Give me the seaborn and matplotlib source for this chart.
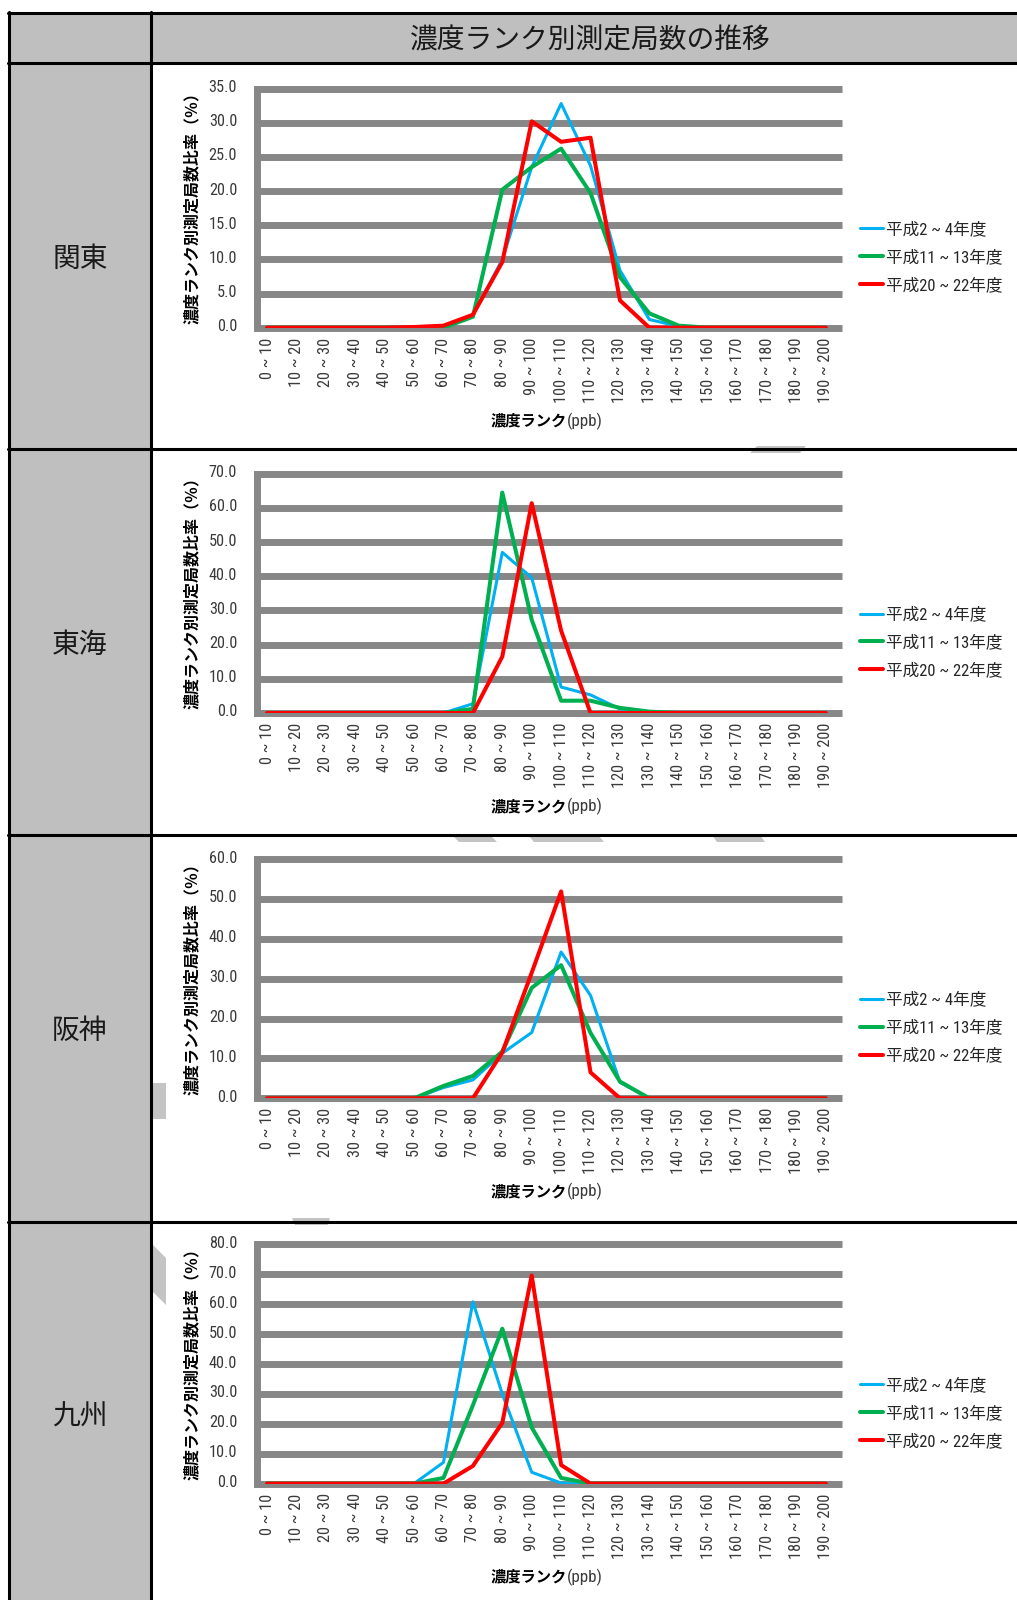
import numpy as np
import pandas as pd
import matplotlib
matplotlib.use("Agg")
import matplotlib.pyplot as plt
import seaborn as sns
from matplotlib import font_manager as fm
from matplotlib.font_manager import FontProperties
from matplotlib.textpath import TextPath
from matplotlib.transforms import ScaledTranslation
from matplotlib.patches import Rectangle, Polygon
from matplotlib.lines import Line2D
from matplotlib.offsetbox import TextArea, HPacker, AnnotationBbox

# ---------------- data ----------------
ranks = ["0 ~ 10", "10 ~ 20", "20 ~ 30", "30 ~ 40", "40 ~ 50", "50 ~ 60", "60 ~ 70",
         "70 ~ 80", "80 ~ 90", "90 ~ 100", "100 ~ 110", "110 ~ 120", "120 ~ 130",
         "130 ~ 140", "140 ~ 150", "150 ~ 160", "160 ~ 170", "170 ~ 180",
         "180 ~ 190", "190 ~ 200"]
periods = ["平成2 ~ 4年度", "平成11 ~ 13年度", "平成20 ~ 22年度"]
regions = ["関東", "東海", "阪神", "九州"]

kanto_h2 = [0, 0, 0, 0, 0, 0, 0.2, 1.8, 10.0, 23.5, 32.8, 23.7, 8.4, 1.2, 0.2, 0, 0, 0, 0, 0]
kanto_h11 = [0, 0, 0, 0, 0, 0, 0, 1.6, 20.2, 23.5, 26.2, 19.7, 7.4, 2.1, 0.3, 0, 0, 0, 0, 0]
kanto_h20 = [0, 0, 0, 0, 0, 0.1, 0.3, 1.9, 9.6, 30.2, 27.2, 27.8, 4.0, 0, 0, 0, 0, 0, 0, 0]

tokai_h2 = [0, 0, 0, 0, 0, 0, 0, 2.7, 47.0, 39.6, 7.6, 5.3, 1.2, 0, 0, 0, 0, 0, 0, 0]
tokai_h11 = [0, 0, 0, 0, 0, 0, 0, 1.2, 64.5, 27.3, 3.6, 3.6, 1.5, 0.4, 0, 0, 0, 0, 0, 0]
tokai_h20 = [0, 0, 0, 0, 0, 0, 0, 0, 16.5, 61.4, 24.1, 0, 0, 0, 0, 0, 0, 0, 0, 0]

hanshin_h2 = [0, 0, 0, 0, 0, 0, 2.7, 4.6, 11.3, 16.5, 36.7, 25.8, 4.0, 0, 0, 0, 0, 0, 0, 0]
hanshin_h11 = [0, 0, 0, 0, 0, 0, 3.1, 5.6, 11.7, 27.7, 33.4, 16.4, 4.2, 0, 0, 0, 0, 0, 0, 0]
hanshin_h20 = [0, 0, 0, 0, 0, 0, 0, 0, 11.5, 31.5, 51.9, 6.5, 0, 0, 0, 0, 0, 0, 0, 0]

kyushu_h2 = [0, 0, 0, 0, 0, 0, 7.1, 60.8, 30.0, 3.8, 0.2, 0, 0, 0, 0, 0, 0, 0, 0, 0]
kyushu_h11 = [0, 0, 0, 0, 0, 0, 1.9, 26.2, 51.8, 18.8, 1.9, 0, 0, 0, 0, 0, 0, 0, 0, 0]
kyushu_h20 = [0, 0, 0, 0, 0, 0, 0, 5.9, 20.3, 69.6, 6.2, 0, 0, 0, 0, 0, 0, 0, 0, 0]

series = [
    (kanto_h2, kanto_h11, kanto_h20),
    (tokai_h2, tokai_h11, tokai_h20),
    (hanshin_h2, hanshin_h11, hanshin_h20),
    (kyushu_h2, kyushu_h11, kyushu_h20),
]
y_max = [35, 70, 60, 80]
y_step = [5, 10, 10, 10]

# ---------------- style ----------------
sns.set_style("white")
names = {f.name for f in fm.fontManager.ttflist}
NARROW = "Liberation Sans"
for cand in ["Roboto Condensed", "Archivo Narrow", "PT Sans Narrow",
             "Liberation Sans Narrow", "Open Sans Condensed", "Fira Sans Condensed",
             "IBM Plex Sans Condensed", "DejaVu Sans Condensed"]:
    if cand in names:
        NARROW = cand
        break
CJK = "Noto Sans CJK JP"
plt.rcParams["font.family"] = [CJK, "DejaVu Sans"]

# size the narrow tick font so that "100 ~ 110" is about 63 px long
_w = TextPath((0, 0), "100 ~ 110", size=100, prop=FontProperties(family=NARROW)).get_extents().width
TICK_PT = min(13.5, max(9.5, 63 * 0.72 / (_w / 100)))

GRAY = "#878787"
CELL = "#BFBFBF"
COLORS = ["#00B0F0", "#00B050", "#FF0000"]
LWS = [2.2, 2.9, 2.9]
TXT = "#3a3a3a"

W, H = 1017, 1600
fig = plt.figure(figsize=(W / 100, H / 100), dpi=100)
fig.patch.set_facecolor("white")


def fx(px):
    return px / W


def fy(py):
    return 1 - py / H


def rect(x0, y0, x1, y1, color, z=-5):
    fig.add_artist(Rectangle((fx(x0), fy(y1)), (x1 - x0) / W, (y1 - y0) / H,
                             transform=fig.transFigure, facecolor=color,
                             edgecolor="none", zorder=z))


def hline(y, x0, x1, lw=2.2):
    fig.add_artist(Line2D([fx(x0), fx(x1)], [fy(y), fy(y)], transform=fig.transFigure,
                          color="black", linewidth=lw, zorder=-1))


def vline(x, y0, y1, lw=2.2):
    fig.add_artist(Line2D([fx(x), fx(x)], [fy(y0), fy(y1)], transform=fig.transFigure,
                          color="black", linewidth=lw, zorder=-1))


# ---------------- table ----------------
rect(9, 13, W + 5, 62, CELL)
rect(9, 62, 150, H + 5, CELL)
# decorative gray fragments
for poly in [
    [(757, 446), (806, 446), (800, 453), (750, 453)],
    [(452, 835), (490, 835), (497, 842), (459, 842)],
    [(528, 835), (598, 835), (604, 842), (534, 842)],
    [(712, 835), (760, 835), (765, 842), (717, 842)],
    [(292, 1218), (330, 1218), (328, 1225), (295, 1225)],
]:
    fig.add_artist(Polygon([(fx(a), fy(b)) for a, b in poly], closed=True,
                           transform=fig.transFigure, facecolor="#C4C4C4",
                           edgecolor="none", zorder=-4))
rect(151, 1083, 166, 1119, "#C4C4C4", z=-4)
fig.add_artist(Polygon([(fx(a), fy(b)) for a, b in
                        [(151, 1243), (166, 1258), (166, 1305), (151, 1290)]],
                       closed=True, transform=fig.transFigure,
                       facecolor="#C4C4C4", edgecolor="none", zorder=-4))

hline(13.3, 8, W + 5)
hline(62.5, 8, W + 5)
for yb in [448.5, 834.5, 1221.7]:
    hline(yb, 8, W + 5)
vline(9.3, 12, H + 5)
vline(150.5, 12, H + 5)

fig.text(fx(590), fy(40), "濃度ランク別測定局数の推移", ha="center", va="center",
         fontsize=20, color="#1a1a1a", family=[CJK, "DejaVu Sans"])

# ---------------- charts ----------------
STEP = 385.3
pos = np.arange(len(ranks))
lift = ScaledTranslation(0, 1.8 / 72, fig.dpi_scale_trans)
for i in range(4):
    top = 88.5 + STEP * i
    bot = 327.7 + STEP * i
    ax = fig.add_axes([fx(257), fy(bot), (842 - 257) / W, (bot - top) / H])
    ax.patch.set_visible(False)

    df = pd.DataFrame({"rank": np.tile(pos, 3),
                       "value": np.concatenate(series[i]),
                       "period": np.repeat(periods, len(ranks))})
    for k, per in enumerate(periods):
        sub = df[df["period"] == per]
        sns.lineplot(data=sub, x="rank", y="value", color=COLORS[k], linewidth=LWS[k],
                     label=per, ax=ax, legend=False, zorder=3 + k)

    ax.set_xlim(-0.34, 19.55)
    ax.set_ylim(0, y_max[i])
    ticks = np.arange(0, y_max[i] + 0.01, y_step[i])
    ax.set_yticks(ticks)
    ax.set_yticklabels([f"{t:.1f}" for t in ticks], family=NARROW)
    for t in ticks:
        ax.axhline(t, color=GRAY, linewidth=5, zorder=1, clip_on=False,
                   solid_capstyle="butt")
    ax.grid(False)
    for s in ["top", "right", "bottom"]:
        ax.spines[s].set_visible(False)
    ax.spines["left"].set_color(GRAY)
    ax.spines["left"].set_linewidth(5)
    ax.spines["left"].set_zorder(2)
    ax.tick_params(axis="y", direction="out", length=6.3, width=5, color=GRAY,
                   pad=8, labelsize=TICK_PT, labelcolor=TXT)
    ax.set_xticks(pos)
    ax.set_xticklabels(ranks, rotation=90, family=NARROW)
    ax.tick_params(axis="x", length=0, pad=7, labelsize=TICK_PT, labelcolor=TXT)
    ax.set_xlabel("")
    ax.set_ylabel("")
    for lab in ax.get_yticklabels():
        lab.set_transform(lab.get_transform() + lift)

    handles = ax.get_lines()[:3]
    leg = ax.legend(handles, periods, loc="center left",
                    bbox_to_anchor=(fx(860), fy(257 + STEP * i)),
                    bbox_transform=fig.transFigure, frameon=False, borderpad=0,
                    borderaxespad=0, handlelength=1.4, handletextpad=0.15,
                    labelspacing=0.72, prop={"family": [NARROW, CJK], "size": 12})
    for t in leg.get_texts():
        t.set_color("#262626")

    fig.text(fx(192), fy((top + bot) / 2 - 4), "濃度ランク別測定局数比率（％）", rotation=90,
             ha="center", va="center", fontsize=11.5, fontweight="bold",
             color="black", family=[CJK, "DejaVu Sans"])

    pack = HPacker(children=[
        TextArea("濃度ランク", textprops=dict(fontsize=11, fontweight="bold",
                                          family=[CJK, "DejaVu Sans"], color="black")),
        TextArea("(ppb)", textprops=dict(fontsize=TICK_PT + 0.5, family=NARROW, color=TXT)),
    ], sep=0, pad=0, align="baseline")
    ab = AnnotationBbox(pack, (fx(547), fy(421 + STEP * i)), xycoords="figure fraction",
                        frameon=False, box_alignment=(0.5, 0.5), pad=0)
    fig.add_artist(ab)

    fig.text(fx(80), fy(259 + 386 * i), regions[i], ha="center", va="center",
             fontsize=20, color="#1a1a1a", family=[CJK, "DejaVu Sans"])

fig.savefig("out.png", dpi=100)
